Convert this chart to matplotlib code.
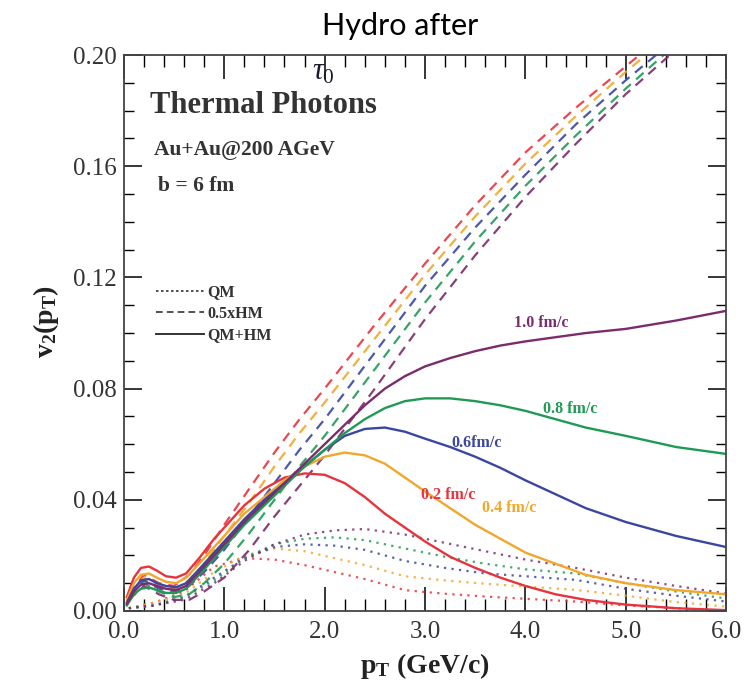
import matplotlib
matplotlib.use("Agg")
import matplotlib.pyplot as plt
from matplotlib.lines import Line2D
from matplotlib.ticker import MultipleLocator, FormatStrFormatter

plt.rcParams['font.family'] = ['Liberation Serif', 'DejaVu Serif']
plt.rcParams['mathtext.fontset'] = 'custom'
plt.rcParams['mathtext.rm'] = 'Liberation Serif'
plt.rcParams['mathtext.it'] = 'Liberation Serif:italic'
plt.rcParams['mathtext.bf'] = 'Liberation Serif:bold'

# formation times (fm/c) and colours
tau0 = ['0.2', '0.4', '0.6', '0.8', '1.0']
colors = ['#e8333d', '#f2a62a', '#3b46a0', '#1f9a55', '#7a2c6c']

# QM+HM (solid)
pt_solid = [0.03, 0.1, 0.17, 0.25, 0.33, 0.42, 0.52, 0.62, 0.75, 0.9, 1.05, 1.2,
            1.4, 1.6, 1.8, 2.0, 2.2, 2.4, 2.6, 2.8, 3.0, 3.25, 3.5, 3.75, 4.0,
            4.3, 4.6, 5.0, 5.5, 6.0]
v2_solid = {
    '0.2': [0.005, 0.012, 0.0155, 0.016, 0.0145, 0.0125, 0.012, 0.0135, 0.019, 0.026,
            0.032, 0.038, 0.044, 0.048, 0.0495, 0.049, 0.046, 0.041, 0.035, 0.030,
            0.025, 0.0195, 0.0155, 0.012, 0.009, 0.006, 0.004, 0.0023, 0.001, 0.0003],
    '0.4': [0.004, 0.010, 0.013, 0.0135, 0.012, 0.0105, 0.010, 0.012, 0.017, 0.023,
            0.029, 0.035, 0.041, 0.047, 0.052, 0.0555, 0.057, 0.056, 0.053, 0.048,
            0.043, 0.037, 0.031, 0.026, 0.021, 0.017, 0.013, 0.010, 0.0075, 0.006],
    '0.6': [0.003, 0.008, 0.011, 0.0115, 0.010, 0.009, 0.0085, 0.010, 0.015, 0.021,
            0.027, 0.033, 0.040, 0.046, 0.052, 0.058, 0.063, 0.0655, 0.066, 0.0645,
            0.062, 0.059, 0.0555, 0.0515, 0.047, 0.042, 0.037, 0.032, 0.027, 0.023],
    '0.8': [0.002, 0.006, 0.008, 0.0085, 0.0075, 0.0065, 0.0065, 0.008, 0.013, 0.019,
            0.025, 0.031, 0.038, 0.045, 0.052, 0.058, 0.064, 0.069, 0.073, 0.0755,
            0.0765, 0.0765, 0.0755, 0.074, 0.072, 0.069, 0.066, 0.063, 0.059, 0.0565],
    '1.0': [0.0025, 0.007, 0.0095, 0.010, 0.009, 0.008, 0.0075, 0.009, 0.014, 0.020,
            0.026, 0.032, 0.039, 0.046, 0.053, 0.060, 0.067, 0.074, 0.080, 0.0845,
            0.088, 0.091, 0.0935, 0.0955, 0.097, 0.0985, 0.100, 0.1015, 0.1045, 0.108],
}

# 0.5 x HM (dashed)
pt_hm = [0.05, 0.2, 0.35, 0.5, 0.65, 0.8, 1.0, 1.25, 1.5, 1.75, 2.0, 2.5, 3.0,
         3.5, 4.0, 4.5, 5.0, 5.5, 6.0]
v2_hm = {
    '0.2': [0.006, 0.013, 0.010, 0.009, 0.013, 0.020, 0.031, 0.044, 0.057, 0.069, 0.080,
            0.103, 0.125, 0.146, 0.165, 0.181, 0.196, 0.211, 0.224],
    '0.4': [0.006, 0.012, 0.009, 0.008, 0.011, 0.017, 0.027, 0.039, 0.052, 0.064, 0.075,
            0.098, 0.121, 0.142, 0.161, 0.178, 0.194, 0.209, 0.222],
    '0.6': [0.005, 0.011, 0.008, 0.007, 0.009, 0.014, 0.022, 0.034, 0.046, 0.058, 0.069,
            0.093, 0.117, 0.138, 0.157, 0.175, 0.191, 0.206, 0.220],
    '0.8': [0.005, 0.010, 0.007, 0.005, 0.006, 0.010, 0.017, 0.028, 0.040, 0.052, 0.063,
            0.087, 0.111, 0.133, 0.153, 0.171, 0.188, 0.204, 0.217],
    '1.0': [0.004, 0.009, 0.006, 0.004, 0.004, 0.007, 0.012, 0.022, 0.034, 0.045, 0.056,
            0.080, 0.105, 0.128, 0.149, 0.168, 0.186, 0.202, 0.216],
}

# QM (dotted)
pt_qm = [0.05, 0.3, 0.6, 0.9, 1.2, 1.5, 1.8, 2.1, 2.4, 2.8, 3.2, 3.6, 4.0, 4.5,
         5.0, 5.5, 6.0]
v2_qm = {
    '0.2': [0.001, 0.003, 0.007, 0.016, 0.019, 0.0185, 0.0165, 0.014, 0.0115, 0.0075,
            0.0062, 0.0052, 0.0044, 0.0034, 0.002, 0.001, 0.0],
    '0.4': [0.001, 0.003, 0.006, 0.014, 0.020, 0.0225, 0.0215, 0.019, 0.0165, 0.0125,
            0.011, 0.0098, 0.0088, 0.0076, 0.0055, 0.0032, 0.0016],
    '0.6': [0.001, 0.002, 0.005, 0.012, 0.019, 0.023, 0.024, 0.0235, 0.022, 0.018,
            0.0155, 0.0135, 0.0125, 0.0112, 0.008, 0.0055, 0.0034],
    '0.8': [0.001, 0.002, 0.005, 0.011, 0.019, 0.024, 0.026, 0.0265, 0.0255, 0.0225,
            0.0195, 0.017, 0.015, 0.0135, 0.010, 0.007, 0.0045],
    '1.0': [0.001, 0.002, 0.004, 0.010, 0.018, 0.024, 0.0275, 0.029, 0.0295, 0.0275,
            0.0245, 0.0215, 0.0185, 0.0155, 0.012, 0.009, 0.0063],
}

# curve labels: text, anchor (pT, v2)
curve_labels = {
    '1.0': ('1.0 fm/c', 4.16, 0.1037),
    '0.8': ('0.8 fm/c', 4.45, 0.0728),
    '0.6': ('0.6fm/c', 3.51, 0.0603),
    '0.4': ('0.4 fm/c', 3.84, 0.037),
    '0.2': ('0.2 fm/c', 3.23, 0.0418),
}

fig = plt.figure(figsize=(7.55, 6.94), dpi=100)
ax = fig.add_axes([0.164, 0.1196, 0.798, 0.801])

for t, c in zip(tau0, colors):
    ax.plot(pt_qm, v2_qm[t], color=c, lw=1.6, ls=(0, (1, 2.4)), alpha=0.85)
for t, c in zip(tau0, colors):
    ax.plot(pt_hm, v2_hm[t], color=c, lw=1.6, ls=(0, (4.5, 3.2)), alpha=0.9)
for t, c in zip(tau0, colors):
    ax.plot(pt_solid, v2_solid[t], color=c, lw=1.7)

for t, c in zip(tau0, colors):
    txt, x, y = curve_labels[t]
    ax.text(x, y, txt, color=c, fontsize=11.5, fontweight='bold',
            ha='center', va='center')

ax.set_xlim(0, 6.0)
ax.set_ylim(0, 0.20)
ax.xaxis.set_major_locator(MultipleLocator(1.0))
ax.xaxis.set_minor_locator(MultipleLocator(0.2))
ax.yaxis.set_major_locator(MultipleLocator(0.04))
ax.yaxis.set_minor_locator(MultipleLocator(0.01))
ax.xaxis.set_major_formatter(FormatStrFormatter('%.1f'))
ax.yaxis.set_major_formatter(FormatStrFormatter('%.2f'))
ax.tick_params(axis='x', which='major', direction='in', length=17, width=1.1,
               top=True, labelsize=18, labelcolor='#333333', pad=7)
ax.tick_params(axis='x', which='minor', direction='in', length=8.5, width=1.0, top=True)
ax.tick_params(axis='y', which='major', direction='in', length=13, width=1.1,
               right=True, labelsize=18, labelcolor='#333333', pad=5)
ax.tick_params(axis='y', which='minor', direction='in', length=7, width=1.0, right=True)
for s in ax.spines.values():
    s.set_linewidth(1.3)
    s.set_color('#444444')

ax.set_xlabel(r'$\mathbf{p_T}$' + ' (GeV/c)', fontsize=20, fontweight='bold',
              color='#222222')
ax.xaxis.set_label_coords(0.5, -0.072)
ax.set_ylabel(r'$\mathbf{v_2(p_T)}$', fontsize=20, color='#222222')
ax.yaxis.set_label_coords(-0.105, 0.52)

ax.text(0.043, 0.91, 'Thermal Photons', transform=ax.transAxes, fontsize=22,
        fontweight='bold', color='#333333', va='center', ha='left')
ax.text(0.05, 0.829, 'Au+Au@200 AGeV', transform=ax.transAxes, fontsize=15.5,
        fontweight='bold', color='#333333', va='center', ha='left')
ax.text(0.056, 0.764, 'b = 6 fm', transform=ax.transAxes, fontsize=15.5,
        fontweight='bold', color='#333333', va='center', ha='left')

handles = [Line2D([], [], color='#333333', lw=1.2, ls=(0, (1.5, 1.5))),
           Line2D([], [], color='#333333', lw=1.2, ls=(0, (4, 2.5))),
           Line2D([], [], color='#333333', lw=1.4)]
leg = ax.legend(handles, ['QM', '0.5xHM', 'QM+HM'], loc='upper left',
                bbox_to_anchor=(0.053, 0.588), frameon=False, handlelength=3.0,
                handletextpad=0.25, labelspacing=0.35, borderpad=0, borderaxespad=0,
                prop={'family': 'Liberation Serif', 'weight': 'bold', 'size': 11.5})
for t in leg.get_texts():
    t.set_color('#333333')

fig.text(0.53, 0.963, 'Hydro after', fontsize=22, family='Lato', ha='center',
         va='center', color='black')
fig.text(0.428, 0.896, r'$\tau_0$', fontsize=22, ha='center', va='center',
         color='#1a1a2e')

fig.savefig('out.png', dpi=100)
